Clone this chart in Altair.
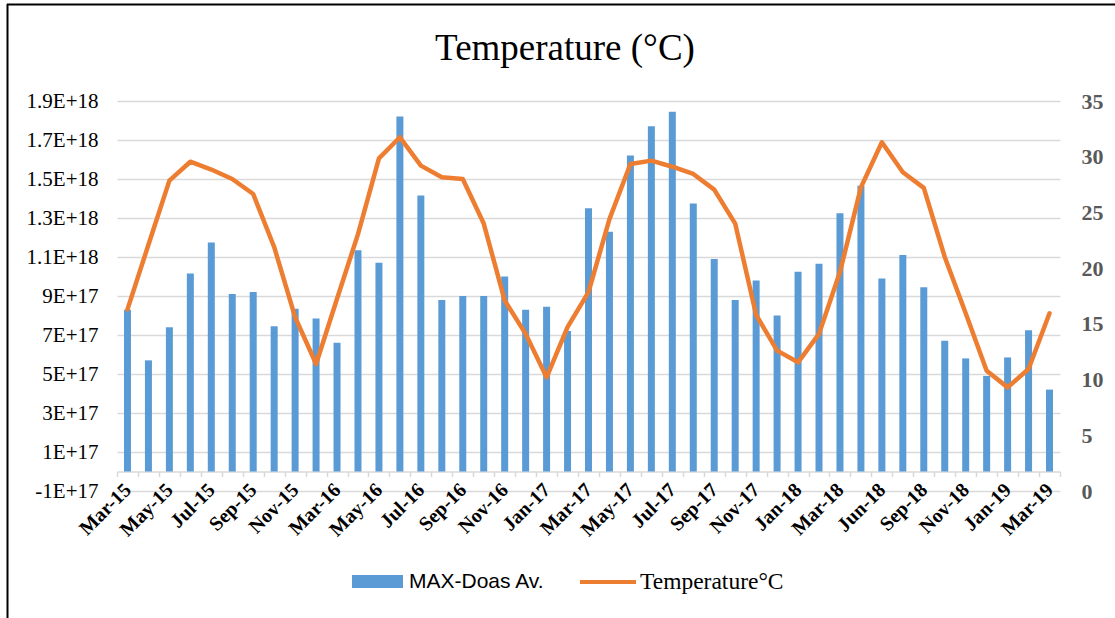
import json
import altair as alt
import pandas as pd

# Monthly categories (a few months are absent from the record)
months = [
    "Mar-15", "Apr-15", "May-15", "Jun-15", "Jul-15", "Aug-15", "Sep-15", "Oct-15", "Nov-15", "Dec-15",
    "Mar-16", "Apr-16", "May-16", "Jun-16", "Jul-16", "Aug-16", "Sep-16", "Oct-16", "Nov-16", "Dec-16",
    "Jan-17", "Feb-17", "Mar-17", "Apr-17", "May-17", "Jun-17", "Jul-17", "Aug-17", "Sep-17", "Oct-17",
    "Nov-17", "Dec-17", "Jan-18", "Feb-18", "Mar-18", "May-18", "Jun-18", "Aug-18", "Sep-18", "Oct-18",
    "Nov-18", "Dec-18", "Jan-19", "Feb-19", "Mar-19",
]

# MAX-DOAS monthly average (left axis)
maxdoas = [
    8.3e17, 5.7e17, 7.4e17, 10.15e17, 11.75e17, 9.1e17, 9.2e17, 7.45e17, 8.35e17, 7.85e17,
    6.6e17, 11.35e17, 10.7e17, 18.2e17, 14.15e17, 8.8e17, 9.0e17, 9.0e17, 10.0e17, 8.3e17,
    8.45e17, 7.2e17, 13.5e17, 12.3e17, 16.2e17, 17.7e17, 18.45e17, 13.75e17, 10.9e17, 8.8e17,
    9.8e17, 8.0e17, 10.25e17, 10.65e17, 13.25e17, 14.65e17, 9.9e17, 11.1e17, 9.45e17, 6.7e17,
    5.8e17, 4.9e17, 5.85e17, 7.25e17, 4.2e17,
]

# Monthly mean temperature in °C (right axis)
temperature = [
    16.3, 22.1, 27.85, 29.55, 28.85, 28.0, 26.65, 21.9, 15.6, 11.4,
    17.25, 23.05, 29.85, 31.75, 29.2, 28.15, 28.0, 24.0, 17.1, 14.1,
    10.2, 14.7, 17.85, 24.4, 29.35, 29.65, 29.1, 28.45, 27.05, 24.0,
    15.8, 12.6, 11.55, 14.1, 19.65, 27.25, 31.3, 28.6, 27.2, 21.0,
    15.95, 10.8, 9.3, 10.95, 15.95,
]

# Category labels printed on the x axis (every other month)
x_labels = [
    "Mar-15", "May-15", "Jul-15", "Sep-15", "Nov-15", "Mar-16", "May-16", "Jul-16", "Sep-16",
    "Nov-16", "Jan-17", "Mar-17", "May-17", "Jul-17", "Sep-17", "Nov-17", "Jan-18", "Mar-18",
    "Jun-18", "Sep-18", "Nov-18", "Jan-19", "Mar-19",
]

# Left axis ticks and their Excel-style labels
y_ticks = [-1e17, 1e17, 3e17, 5e17, 7e17, 9e17, 1.1e18, 1.3e18, 1.5e18, 1.7e18, 1.9e18]
y_tick_labels = ["-1E+17", "1E+17", "3E+17", "5E+17", "7E+17", "9E+17",
                 "1.1E+18", "1.3E+18", "1.5E+18", "1.7E+18", "1.9E+18"]

# Right axis ticks
t_ticks = [0, 5, 10, 15, 20, 25, 30, 35]

title_text = "Temperature (°C)"
bar_series = "MAX-Doas Av."
line_series = "Temperature°C"

BLUE = "#5B9BD5"
ORANGE = "#ED7D31"
GRID = "#D9D9D9"
SERIF = "Liberation Serif"
SANS = "Liberation Sans"

W, H = 943, 390
PAD_L, PAD_T = 117, 101

df = pd.DataFrame({
    "month": months,
    "maxdoas": maxdoas,
    "temp": temperature,
    "s_bar": [bar_series] * len(months),
    "s_line": [line_series] * len(months),
})

x_enc = alt.X(
    "month:N",
    sort=months,
    scale=alt.Scale(paddingInner=0, paddingOuter=0),
    axis=alt.Axis(
        title=None,
        offset=-H * 1e17 / 2e18,  # category axis crosses the left axis at zero
        domainColor=GRID,
        domainWidth=1.5,
        tickColor=GRID,
        tickWidth=1.5,
        tickSize=5,
        tickBand="extent",
        labelExpr=f"indexof({json.dumps(x_labels)}, datum.value) >= 0 ? datum.value : ''",
        labelAngle=-45,
        labelAlign="right",
        labelBaseline="middle",
        labelFont=SERIF,
        labelFontWeight="bold",
        labelFontSize=20,
        labelColor="#000000",
        labelPadding=10,
        labelOverlap=False,
        grid=False,
    ),
)

bars = alt.Chart(df).mark_bar(size=7, color=BLUE).encode(
    x=x_enc,
    y=alt.Y(
        "maxdoas:Q",
        scale=alt.Scale(domain=[-1e17, 1.9e18], zero=False, nice=False),
        axis=alt.Axis(
            title=None,
            values=y_ticks,
            labelExpr=f"{json.dumps(y_tick_labels)}[round((datum.value + 1e17) / 2e17)]",
            labelFont=SERIF,
            labelFontSize=21,
            labelColor="#000000",
            labelPadding=19,
            domain=False,
            ticks=False,
            grid=True,
            gridColor=GRID,
            gridWidth=1.5,
        ),
    ),
    fill=alt.Fill(
        "s_bar:N",
        scale=alt.Scale(domain=[bar_series], range=[BLUE]),
        legend=alt.Legend(
            title=None,
            orient="none",
            legendX=235,
            legendY=455,
            padding=0,
            symbolType="M-1,-0.255H1V0.255H-1Z",
            symbolSize=2601,
            symbolStrokeWidth=0,
            labelFont=SANS,
            labelFontSize=21,
            labelColor="#000000",
            labelOffset=6,
        ),
    ),
)

line = alt.Chart(df).mark_line(strokeWidth=4.5, strokeJoin="round", strokeCap="round").encode(
    x=alt.X("month:N", sort=months),
    y=alt.Y(
        "temp:Q",
        scale=alt.Scale(domain=[0, 35], nice=False),
        axis=alt.Axis(
            title=None,
            orient="right",
            values=t_ticks,
            labelFont=SERIF,
            labelFontWeight="bold",
            labelFontSize=22,
            labelColor="#595959",
            labelPadding=21,
            domain=False,
            ticks=False,
            grid=False,
        ),
    ),
    stroke=alt.Stroke(
        "s_line:N",
        scale=alt.Scale(domain=[line_series], range=[ORANGE]),
        legend=alt.Legend(
            title=None,
            orient="none",
            legendX=461,
            legendY=451,
            padding=0,
            symbolType="stroke",
            symbolSize=3136,
            symbolStrokeWidth=4,
            labelFont=SERIF,
            labelFontSize=23.5,
            labelColor="#000000",
            labelOffset=2,
        ),
    ),
)

one = pd.DataFrame({"k": [0]})

# Chart title
title = alt.Chart(one).mark_text(
    text=title_text, font=SERIF, fontSize=37, color="#000000",
    align="center", baseline="alphabetic",
).encode(x=alt.value(565 - PAD_L), y=alt.value(60 - PAD_T))

# Outer frame: top and left edges of the chart area
frame_top = alt.Chart(one).mark_rule(color="#000000", strokeWidth=2).encode(
    x=alt.value(7 - PAD_L), x2=alt.value(1115 - PAD_L), y=alt.value(4.5 - PAD_T)
)
frame_left = alt.Chart(one).mark_rule(color="#000000", strokeWidth=2).encode(
    x=alt.value(7.5 - PAD_L), y=alt.value(4 - PAD_T), y2=alt.value(618 - PAD_T)
)

chart = (
    alt.layer(bars, line, title, frame_top, frame_left)
    .resolve_scale(y="independent")
    .properties(
        width=W,
        height=H,
        autosize=alt.AutoSizeParams(type="none"),
        padding={"left": PAD_L, "top": PAD_T, "right": 1115 - PAD_L - W, "bottom": 618 - PAD_T - H},
        background="white",
    )
    .configure_view(stroke=None)
)

chart.save("out.html", embed_options={"renderer": "svg", "actions": False})
